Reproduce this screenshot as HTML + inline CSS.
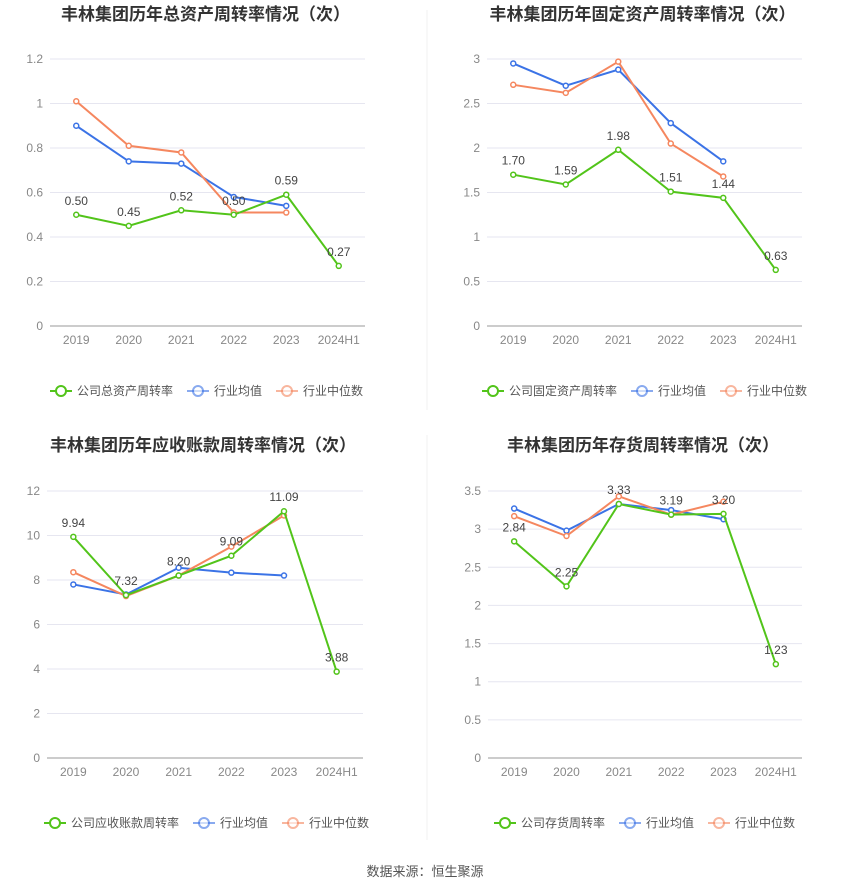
<!DOCTYPE html>
<html><head><meta charset="utf-8"><style>
body{margin:0;background:#fff;}
svg{display:block;font-family:"Liberation Sans","Noto Sans CJK SC",sans-serif;}
</style></head><body>
<svg id="s" width="850" height="891">
<line x1="427" y1="10" x2="427" y2="410" stroke="#f0f0f0"/>
<line x1="427" y1="435" x2="427" y2="840" stroke="#f0f0f0"/>
<text x="425" y="876" text-anchor="middle" font-size="13" fill="#555">数据来源：恒生聚源</text>
</svg>
<script>
const categories=["2019","2020","2021","2022","2023","2024H1"];
const c1Company=[0.50,0.45,0.52,0.50,0.59,0.27];
const c1Avg=[0.90,0.74,0.73,0.58,0.54];
const c1Median=[1.01,0.81,0.78,0.51,0.51];
const c1Ticks=[0,0.2,0.4,0.6,0.8,1,1.2];
const c2Company=[1.70,1.59,1.98,1.51,1.44,0.63];
const c2Avg=[2.95,2.70,2.88,2.28,1.85];
const c2Median=[2.71,2.62,2.97,2.05,1.68];
const c2Ticks=[0,0.5,1,1.5,2,2.5,3];
const c3Company=[9.94,7.32,8.20,9.09,11.09,3.88];
const c3Avg=[7.80,7.35,8.55,8.33,8.20];
const c3Median=[8.35,7.28,8.20,9.50,10.90];
const c3Ticks=[0,2,4,6,8,10,12];
const c4Company=[2.84,2.25,3.33,3.19,3.20,1.23];
const c4Avg=[3.27,2.98,3.33,3.25,3.13];
const c4Median=[3.17,2.91,3.43,3.19,3.36];
const c4Ticks=[0,0.5,1,1.5,2,2.5,3,3.5];
const NS="http://www.w3.org/2000/svg";
const svg=document.getElementById('s');
function mk(tag,attrs,parent){const e=document.createElementNS(NS,tag);for(const k in attrs)e.setAttribute(k,attrs[k]);(parent||svg).appendChild(e);return e;}
const GREEN="#52c41a",BLUE="#3b73e6",ORANGE="#f5875f";
function chart(o){
  const g=mk('g',{});
  
  
  const max=o.ticks[o.ticks.length-1];
  const y=v=>o.y0-(v/max)*(o.y0-o.yTop);
  const bw=(o.x1-o.x0)/categories.length;
  const x=i=>o.x0+bw*(i+0.5);
  const t=mk('text',{x:(o.x0+o.x1)/2-2,y:o.titleY,'text-anchor':'middle','font-size':17,'font-weight':'bold',fill:'#333'},g);
  t.textContent=o.title;
  
  
  o.ticks.forEach(v=>{
    const l=mk('line',{x1:o.x0,x2:o.x1,y1:y(v),y2:y(v),stroke:v===0?'#999':'#e6e6f0'},g);
    
    
    const tx=mk('text',{x:o.x0-7,y:y(v)+4,'text-anchor':'end','font-size':12,fill:'#888'},g);
    tx.textContent=String(v);
    
    
  });
  categories.forEach((c,i)=>{
    const tx=mk('text',{x:x(i),y:o.y0+18,'text-anchor':'middle','font-size':12,fill:'#888'},g);
    tx.textContent=c;
    
    
  });
  function series(vals,color,nm,labels){
    const p=mk('polyline',{points:vals.map((v,i)=>x(i)+','+y(v)).join(' '),fill:'none',stroke:color,'stroke-width':2},g);
    
    
    vals.forEach((v,i)=>{
      const c=mk('circle',{cx:x(i),cy:y(v),r:2.5,fill:'#fff',stroke:color,'stroke-width':1.5},g);
      
      
      if(labels){
        const tl=mk('text',{x:x(i),y:y(v)-10,'text-anchor':'middle','font-size':12,fill:'#444'},g);
        tl.textContent=v.toFixed(2);
        
        
      }
    });
  }
  series(o.avg,BLUE,'industry-average',false);
  series(o.median,ORANGE,'industry-median',false);
  series(o.company,GREEN,'company',true);
  const items=[[o.legend,GREEN],['行业均值',BLUE],['行业中位数',ORANGE]];
  let lx=o.legX;
  items.forEach(([txt,col])=>{
    const lg=mk('g',{},g);
    
    
    mk('line',{x1:lx,x2:lx+22,y1:o.legY,y2:o.legY,stroke:col,'stroke-width':2,opacity:col===GREEN?1:0.6},lg);
    mk('circle',{cx:lx+11,cy:o.legY,r:5,fill:'#fff',stroke:col,'stroke-width':2,opacity:col===GREEN?1:0.6},lg);
    const tt=mk('text',{x:lx+27,y:o.legY+4,'font-size':12,fill:'#555'},lg);
    tt.textContent=txt;
    lx+=27+txt.length*12+14;
  });
}
chart({name:'total-asset-turnover-chart',title:'丰林集团历年总资产周转率情况（次）',titleY:20,x0:50,x1:365,y0:326,yTop:59,ticks:c1Ticks,company:c1Company,avg:c1Avg,median:c1Median,legend:'公司总资产周转率',legX:50,legY:391});
chart({name:'fixed-asset-turnover-chart',title:'丰林集团历年固定资产周转率情况（次）',titleY:20,x0:487,x1:802,y0:326,yTop:59,ticks:c2Ticks,company:c2Company,avg:c2Avg,median:c2Median,legend:'公司固定资产周转率',legX:482,legY:391});
chart({name:'receivables-turnover-chart',title:'丰林集团历年应收账款周转率情况（次）',titleY:451,x0:47,x1:363,y0:758,yTop:491,ticks:c3Ticks,company:c3Company,avg:c3Avg,median:c3Median,legend:'公司应收账款周转率',legX:44,legY:823});
chart({name:'inventory-turnover-chart',title:'丰林集团历年存货周转率情况（次）',titleY:451,x0:488,x1:802,y0:758,yTop:491,ticks:c4Ticks,company:c4Company,avg:c4Avg,median:c4Median,legend:'公司存货周转率',legX:494,legY:823});
</script>
</body></html>
